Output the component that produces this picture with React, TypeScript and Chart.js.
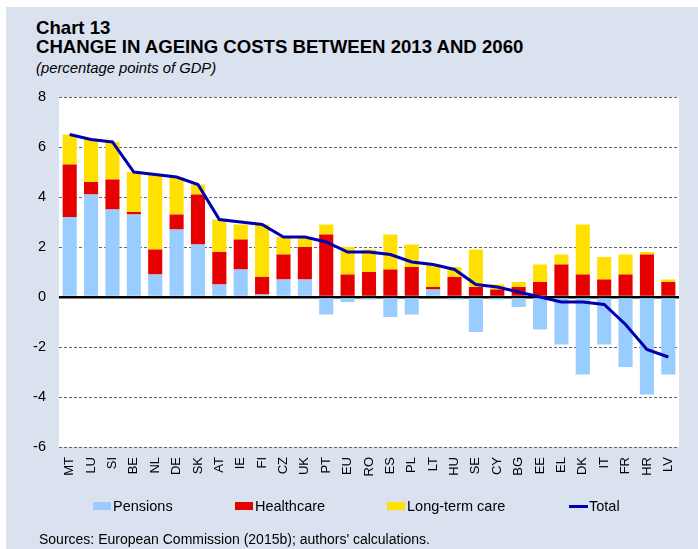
import React, { useEffect, useRef } from "react";
import { Chart, registerables } from "chart.js";

Chart.register(...registerables);

const categories = ["MT","LU","SI","BE","NL","DE","SK","AT","IE","FI","CZ","UK","PT","EU","RO","ES","PL","LT","HU","SE","CY","BG","EE","EL","DK","IT","FR","HR","LV"];
const pensions = [3.2,4.1,3.5,3.3,0.9,2.7,2.1,0.5,1.1,0.1,0.7,0.7,-0.7,-0.2,-0.1,-0.8,-0.7,0.3,-0.1,-1.4,-0.1,-0.4,-1.3,-1.9,-3.1,-1.9,-2.8,-3.9,-3.1];
const healthcare = [2.1,0.5,1.2,0.1,1.0,0.6,2.0,1.3,1.2,0.7,1.0,1.3,2.5,0.9,1.0,1.1,1.2,0.1,0.8,0.4,0.3,0.4,0.6,1.3,0.9,0.7,0.9,1.7,0.6];
const longTermCare = [1.2,1.7,1.5,1.6,3.0,1.5,0.4,1.3,0.6,2.1,0.7,0.4,0.4,1.1,0.9,1.4,0.9,0.9,0.4,1.5,0.2,0.2,0.7,0.4,2.0,0.9,0.8,0.1,0.1];
const total = [6.5,6.3,6.2,5.0,4.9,4.8,4.5,3.1,3.0,2.9,2.4,2.4,2.2,1.8,1.8,1.7,1.4,1.3,1.1,0.5,0.4,0.2,0.0,-0.2,-0.2,-0.3,-1.1,-2.1,-2.4];
const seriesNames = ["Pensions", "Healthcare", "Long-term care", "Total"];
const yMin = -6;
const yMax = 8;
const yStep = 2;

const FONT = "'Liberation Sans', Arial, sans-serif";
const PANEL = "#DAE1EF";
const C_PEN = "#99CCFF";
const C_HEALTH = "#E60000";
const C_LTC = "#FFE000";
const C_TOTAL = "#0000B0";

const plotBg = {
  id: "plotBg",
  beforeDraw(chart: any) {
    const { ctx, chartArea } = chart;
    ctx.save();
    ctx.fillStyle = "#ffffff";
    ctx.fillRect(chartArea.left, chartArea.top, chartArea.right - chartArea.left, chartArea.bottom - chartArea.top);
    ctx.restore();
  },
};

export default function App() {
  const ref = useRef<HTMLCanvasElement>(null);
  useEffect(() => {
    if (!ref.current) return;
    Chart.defaults.font.family = FONT;
    const chart = new Chart(ref.current, {
      type: "bar",
      data: {
        labels: categories,
        datasets: [
          {
            type: "line",
            label: seriesNames[3],
            data: total,
            borderColor: C_TOTAL,
            backgroundColor: C_TOTAL,
            borderWidth: 3,
            pointRadius: 0,
            tension: 0,
            stack: "total",
            order: -1,
          } as any,
          { label: seriesNames[0], data: pensions, backgroundColor: C_PEN, stack: "s", categoryPercentage: 1, barPercentage: 0.66 },
          { label: seriesNames[1], data: healthcare, backgroundColor: C_HEALTH, stack: "s", categoryPercentage: 1, barPercentage: 0.66 },
          { label: seriesNames[2], data: longTermCare, backgroundColor: C_LTC, stack: "s", categoryPercentage: 1, barPercentage: 0.66 },
        ],
      },
      options: {
        animation: false,
        responsive: false,
        maintainAspectRatio: false,
        layout: { padding: { left: 0, right: 19, top: 97, bottom: 62 } },
        plugins: { legend: { display: false }, tooltip: { enabled: false }, title: { display: false } },
        scales: {
          x: {
            stacked: true,
            grid: { display: false, drawTicks: false },
            border: { display: false },
            ticks: {
              autoSkip: false,
              minRotation: 90,
              maxRotation: 90,
              padding: 10,
              color: "#000",
              font: { size: 13, family: FONT },
            },
            afterFit: (s: any) => { s.height = 40; },
          },
          y: {
            stacked: true,
            min: yMin,
            max: yMax,
            ticks: {
              stepSize: yStep,
              padding: 13,
              color: "#000",
              font: { size: 14.5, family: FONT },
            },
            grid: {
              drawTicks: false,
              color: (c: any) => (c.tick && c.tick.value === 0 ? "#000000" : "#666666"),
              lineWidth: (c: any) => (c.tick && c.tick.value === 0 ? 2.5 : 1),
            },
            border: {
              display: false,
              dash: (c: any) => (c.tick && c.tick.value === 0 ? [] : [3, 2]),
            } as any,
            afterFit: (s: any) => { s.width = 59; },
          },
        },
      },
      plugins: [plotBg],
    } as any);
    return () => chart.destroy();
  }, []);

  const legendText: React.CSSProperties = {
    position: "absolute",
    top: 499,
    fontSize: 14.5,
    lineHeight: "14.5px",
    fontFamily: FONT,
    color: "#000",
    whiteSpace: "nowrap",
  };
  const box = (left: number, color: string): React.CSSProperties => ({
    position: "absolute", left, top: 502, width: 18, height: 8, background: color,
  });

  return (
    <div style={{ position: "absolute", left: 0, top: 0, width: 698, height: 549, background: "#fff", overflow: "hidden" }}>
      <div style={{ position: "absolute", left: 6, top: 7, width: 692, height: 542, background: PANEL }} />
      <div style={{ position: "absolute", left: 36, top: 19, fontFamily: FONT, fontWeight: "bold", fontSize: 18.6, lineHeight: "18.6px", whiteSpace: "nowrap" }}>Chart 13</div>
      <div style={{ position: "absolute", left: 36, top: 38, fontFamily: FONT, fontWeight: "bold", fontSize: 18.6, lineHeight: "18.6px", whiteSpace: "nowrap" }}>CHANGE IN AGEING COSTS BETWEEN 2013 AND 2060</div>
      <div style={{ position: "absolute", left: 36, top: 61, fontFamily: FONT, fontStyle: "italic", fontSize: 14.8, lineHeight: "14.8px", whiteSpace: "nowrap" }}>(percentage points of GDP)</div>
      <canvas ref={ref} width={698} height={549} style={{ position: "absolute", left: 0, top: 0, width: 698, height: 549 }} />
      <div style={box(93, C_PEN)} />
      <div style={{ ...legendText, left: 113 }}>{seriesNames[0]}</div>
      <div style={box(235, C_HEALTH)} />
      <div style={{ ...legendText, left: 255 }}>{seriesNames[1]}</div>
      <div style={box(387, C_LTC)} />
      <div style={{ ...legendText, left: 407 }}>{seriesNames[2]}</div>
      <div style={{ position: "absolute", left: 569, top: 505, width: 19, height: 3, background: C_TOTAL }} />
      <div style={{ ...legendText, left: 589 }}>{seriesNames[3]}</div>
      <div style={{ position: "absolute", left: 39, top: 532, fontFamily: FONT, fontSize: 14, lineHeight: "14px", whiteSpace: "nowrap" }}>Sources: European Commission (2015b); authors' calculations.</div>
    </div>
  );
}
